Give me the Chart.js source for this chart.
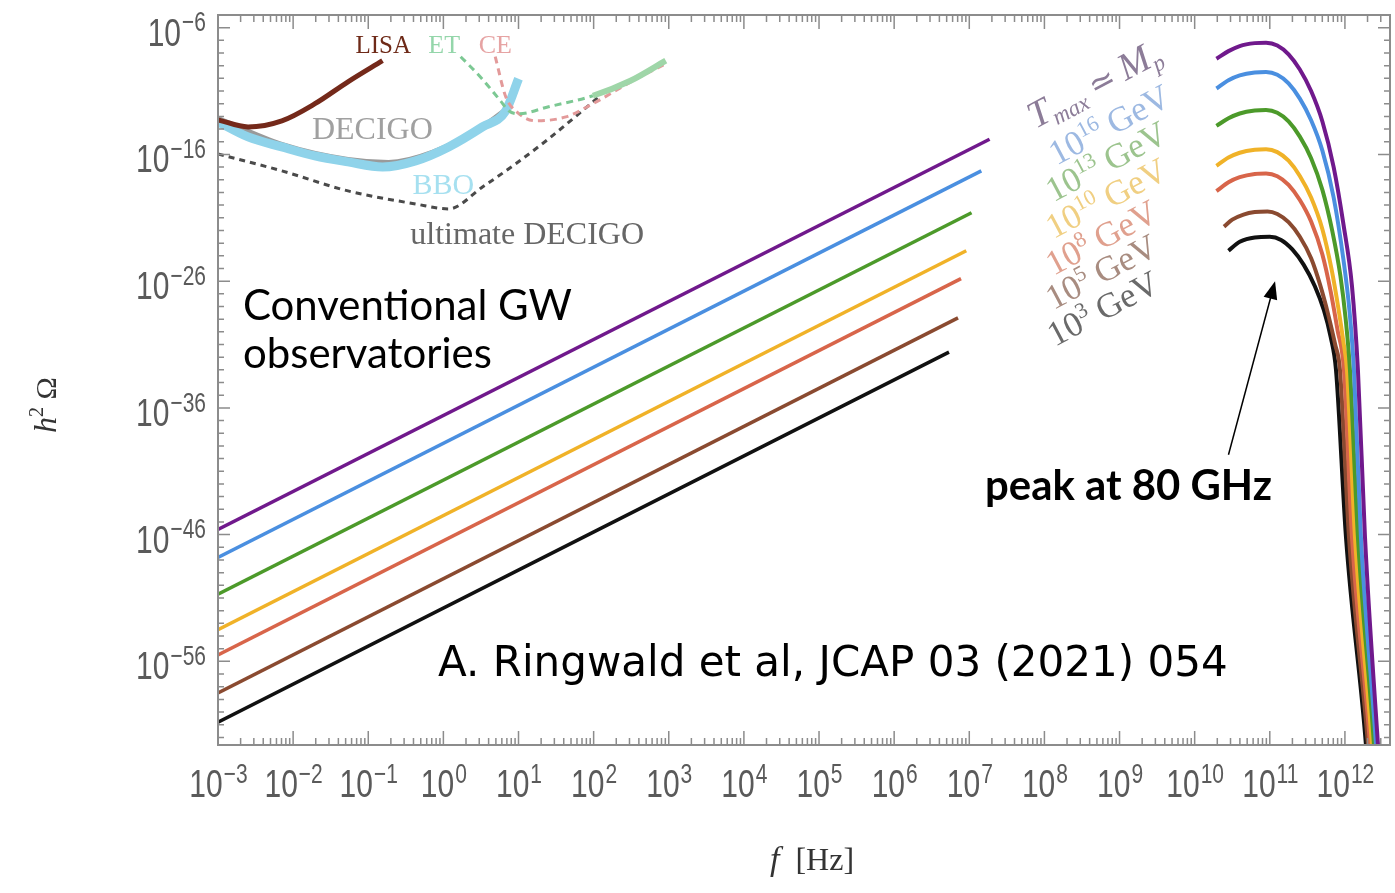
<!DOCTYPE html>
<html>
<head>
<meta charset="utf-8">
<title>GW spectrum</title>
<script src="https://cdn.jsdelivr.net/npm/chart.js@4.4.1/dist/chart.umd.min.js"></script>
<style>
  html, body { margin: 0; padding: 0; background: #fff; }
</style>
</head>
<body>
<canvas id="gwChart" width="1395" height="893"></canvas>
<script>
// all values are [log10 f/Hz, log10 h^2 Omega]

// f^3 part of the spectra
const lowPurple = [[-3, -45.6], [7.27, -14.8]]
const lowBlue = [[-3, -47.8], [7.16, -17.3]]
const lowGreen = [[-3, -50.7], [7.03, -20.6]]
const lowYellow = [[-3, -53.5], [6.96, -23.6]]
const lowSalmon = [[-3, -55.5], [6.89, -25.8]]
const lowBrown = [[-3, -58.5], [6.85, -28.9]]
const lowBlack = [[-3, -60.8], [6.73, -31.6]]

// peak part of the spectra
const highPurple = [[10.29, -8.45], [10.45, -7.85], [10.6, -7.45], [10.8, -7.22], [10.95, -7.18], [11.1, -7.4], [11.25, -8.1], [11.4, -9.3], [11.55, -11.0], [11.7, -13.4], [11.85, -17.0], [11.98, -21.5], [12.094, -26.4], [12.173, -33.0], [12.267, -46.2], [12.44, -62.6], [12.49, -67]]
const highBlue = [[10.29, -10.8], [10.45, -10.15], [10.6, -9.77], [10.8, -9.54], [10.95, -9.5], [11.1, -9.72], [11.25, -10.4], [11.4, -11.6], [11.55, -13.3], [11.7, -15.7], [11.85, -19.4], [11.98, -24.3], [12.06, -28.3], [12.12, -33.0], [12.213, -46.2], [12.414, -62.6], [12.46, -67]]
const highGreen = [[10.29, -13.75], [10.45, -13.15], [10.6, -12.77], [10.8, -12.54], [10.95, -12.5], [11.1, -12.72], [11.25, -13.4], [11.4, -14.6], [11.55, -16.3], [11.7, -18.8], [11.83, -22.0], [11.94, -25.6], [12.01, -29.0], [12.067, -33.0], [12.173, -46.2], [12.387, -62.6], [12.43, -67]]
const highYellow = [[10.29, -16.9], [10.45, -16.25], [10.6, -15.87], [10.8, -15.64], [10.95, -15.6], [11.1, -15.82], [11.25, -16.5], [11.4, -17.7], [11.55, -19.4], [11.7, -21.9], [11.82, -25.0], [11.92, -28.4], [11.98, -30.8], [12.027, -33.0], [12.134, -46.2], [12.36, -62.6], [12.41, -67]]
const highSalmon = [[10.29, -18.9], [10.45, -18.2], [10.6, -17.8], [10.8, -17.54], [10.95, -17.5], [11.1, -17.72], [11.25, -18.4], [11.4, -19.6], [11.55, -21.3], [11.7, -23.9], [11.81, -26.8], [11.9, -29.8], [11.987, -33.0], [12.094, -46.2], [12.334, -62.6], [12.38, -67]]
const highBrown = [[10.39, -21.7], [10.5, -21.15], [10.65, -20.75], [10.8, -20.55], [10.97, -20.5], [11.1, -20.7], [11.25, -21.35], [11.4, -22.5], [11.55, -24.2], [11.67, -26.3], [11.78, -28.7], [11.87, -31.0], [11.934, -33.0], [12.054, -46.2], [12.307, -62.6], [12.36, -67]]
const highBlack = [[10.45, -23.6], [10.6, -22.9], [10.8, -22.55], [11.0, -22.5], [11.15, -22.75], [11.3, -23.5], [11.45, -24.7], [11.6, -26.4], [11.72, -28.3], [11.81, -30.4], [11.881, -33.0], [12.014, -46.2], [12.28, -62.6], [12.33, -67]]

// detector sensitivity curves
const lisa = [[-3, -13.27], [-2.6, -13.83], [-2.15, -13.35], [-1.71, -12.0], [-1.27, -10.27], [-0.81, -8.6]]
const decigo = [[-3, -13.11], [-2.15, -15.17], [-1.27, -16.36], [-0.73, -16.59], [-0.15, -15.8], [0.52, -13.75], [0.87, -12.24]]
const bbo = [[-3, -13.43], [-2.6, -14.62], [-2.15, -15.41], [-1.71, -16.12], [-1.27, -16.59], [-0.81, -16.99], [-0.37, -16.51], [0.07, -15.41], [0.52, -13.83], [0.83, -12.56], [1.0, -10.03]]
const ultDecigo = [[-3, -15.96], [-2.15, -17.3], [-1.27, -18.88], [-0.37, -19.91], [0.07, -20.3], [0.52, -18.57], [0.96, -16.75], [1.4, -14.77], [1.85, -12.56], [2.07, -11.45]]
const et = [[0.23, -8.29], [0.49, -9.87], [0.75, -11.7], [0.87, -12.56], [1.0, -12.8], [1.4, -12.24], [1.99, -11.37], [2.49, -10.19], [2.96, -8.6]]
const ce = [[0.69, -8.29], [0.83, -11.45], [0.96, -12.56], [1.23, -13.35], [1.63, -13.04], [1.99, -12.0], [2.52, -10.19], [2.96, -8.85]]

// temperature labels (exponent of GeV, null = Planck mass)
const tempExps = [null, 16, 13, 10, 8, 5, 3]

// axis ticks
const xTickExps = [-3, -2, -1, 0, 1, 2, 3, 4, 5, 6, 7, 8, 9, 10, 11, 12]
const yTickExps = [-56, -46, -36, -26, -16, -6]
const xRange = [-3, 12.6]
const yRange = [-62.6, -5]

const toXY = (arr) => arr.map(([lx, ly]) => ({ x: Math.pow(10, lx), y: Math.pow(10, ly) }))

const specColors = ['#70198c', '#4a8fe0', '#4c9a2a', '#f0b228', '#d8654a', '#8a4a30', '#111111']
const labelColors = ['#8c7c98', '#9db9e2', '#9cc48e', '#f0cf82', '#e0a08e', '#a88c80', '#6a6a6a']
const lows = [lowPurple, lowBlue, lowGreen, lowYellow, lowSalmon, lowBrown, lowBlack]
const highs = [highPurple, highBlue, highGreen, highYellow, highSalmon, highBrown, highBlack]

let datasets = []
lows.forEach((d, i) => {
  datasets.push({ data: toXY(d), borderColor: specColors[i], borderWidth: 3.5, order: 0 })
  datasets.push({ data: toXY(highs[i]), borderColor: specColors[i], borderWidth: 4, order: 0 })
})
datasets.push({ data: toXY(lisa), borderColor: '#74291a', borderWidth: 5, order: 2 })
datasets.push({ data: toXY(et), borderColor: '#7cc893', borderWidth: 3, order: 2,
  segment: {
    borderDash: (c) => (c.p0.parsed.x >= Math.pow(10, 1.98) ? [] : [7, 5]),
    borderWidth: (c) => (c.p0.parsed.x >= Math.pow(10, 1.98) ? 6 : 3),
    borderColor: (c) => (c.p0.parsed.x >= Math.pow(10, 1.98) ? '#9fd6a8' : '#7cc893')
  } })
datasets.push({ data: toXY(ce), borderColor: '#e39a9a', borderWidth: 3, borderDash: [7, 5], order: 3 })
datasets.push({ data: toXY(ultDecigo), borderColor: '#4a4a4a', borderWidth: 3, borderDash: [6, 5], order: 4 })
datasets.push({ data: toXY(bbo), borderColor: '#8fd3ea', borderWidth: 9, order: 5 })
datasets.push({ data: toXY(decigo), borderColor: '#9a9a9a', borderWidth: 4, order: 6 })

function drawParts(ctx, x, y, parts, color, angle, align) {
  ctx.save()
  ctx.translate(x, y)
  ctx.rotate(angle || 0)
  ctx.fillStyle = color
  ctx.textBaseline = 'alphabetic'
  ctx.textAlign = 'left'
  let total = 0
  parts.forEach((p) => {
    ctx.font = (p.i ? 'italic ' : '') + p.s + 'px "Liberation Serif"'
    total += ctx.measureText(p.t).width
  })
  let cx = align === 'center' ? -total / 2 : 0
  parts.forEach((p) => {
    ctx.font = (p.i ? 'italic ' : '') + p.s + 'px "Liberation Serif"'
    ctx.fillText(p.t, cx, p.dy || 0)
    cx += ctx.measureText(p.t).width
  })
  ctx.restore()
}

function drawPow(ctx, x, y, exp, align) {
  const sup = exp < 0 ? '\u2212' + Math.abs(exp) : String(exp)
  ctx.save()
  ctx.font = '30px "Liberation Sans"'
  const w1 = ctx.measureText('10').width
  ctx.font = '21px "Liberation Sans"'
  const w2 = ctx.measureText(sup).width
  let x0 = align === 'right' ? x - w1 - w2 : x - (w1 + w2) / 2
  ctx.translate(x0, y)
  ctx.scale(1, 1.3)
  ctx.fillStyle = '#5a5a5a'
  ctx.textAlign = 'left'
  ctx.textBaseline = 'alphabetic'
  ctx.font = '30px "Liberation Sans"'
  ctx.fillText('10', 0, 0)
  ctx.font = '21px "Liberation Sans"'
  ctx.fillText(sup, w1 + 1, -11)
  ctx.restore()
}

function fitFont(ctx, text, weight, family, width) {
  ctx.font = weight + ' 40px ' + family
  return 40 * width / ctx.measureText(text).width
}

const overlay = {
  id: 'overlay',
  afterDatasetsDraw(chart) {
    const ctx = chart.ctx
    const a = chart.chartArea
    const xs = chart.scales.x
    const ys = chart.scales.y
    ctx.save()
    ctx.strokeStyle = '#8c8c8c'
    ctx.lineWidth = 1.5
    xs.ticks.forEach((t) => {
      const p = xs.getPixelForValue(t.value)
      const e = Math.log10(t.value)
      const len = Math.abs(e - Math.round(e)) < 1e-6 ? 14 : 7
      ctx.beginPath()
      ctx.moveTo(p, a.bottom); ctx.lineTo(p, a.bottom - len)
      ctx.moveTo(p, a.top); ctx.lineTo(p, a.top + len)
      ctx.stroke()
    })
    ys.ticks.forEach((t) => {
      const p = ys.getPixelForValue(t.value)
      const e = Math.round(Math.log10(t.value))
      const len = yTickExps.includes(e) ? 12 : 6
      ctx.beginPath()
      ctx.moveTo(a.left, p); ctx.lineTo(a.left + len, p)
      ctx.moveTo(a.right, p); ctx.lineTo(a.right - len, p)
      ctx.stroke()
    })
    ctx.lineWidth = 2
    ctx.strokeRect(a.left, a.top, a.right - a.left, a.bottom - a.top)
    ctx.restore()
  },
  afterDraw(chart) {
    const ctx = chart.ctx
    const a = chart.chartArea
    const xs = chart.scales.x
    const ys = chart.scales.y
    const P = (lx, ly) => [xs.getPixelForValue(Math.pow(10, lx)), ys.getPixelForValue(Math.pow(10, ly))]

    xTickExps.forEach((e) => drawPow(ctx, xs.getPixelForValue(Math.pow(10, e)), a.bottom + 52, e, 'center'))
    yTickExps.forEach((e) => drawPow(ctx, a.left - 13, ys.getPixelForValue(Math.pow(10, e)) + 18, e, 'right'))

    // axis titles
    drawParts(ctx, (a.left + a.right) / 2 + 8, 870, [{ t: 'f', i: 1, s: 34 }, { t: '  [Hz]', s: 32 }], '#333', 0, 'center')
    drawParts(ctx, 56, (a.top + a.bottom) / 2 + 25, [{ t: 'h', i: 1, s: 32 }, { t: '2', s: 20, dy: -13 }, { t: ' \u03a9', s: 30 }], '#333', -Math.PI / 2, 'center')

    // detector labels
    const serif = (t, lx, ly, s, col) => { const p = P(lx, ly); drawParts(ctx, p[0], p[1], [{ t: t, s: s }], col, 0) }
    serif('LISA', -1.17, -7.98, 25, '#6e2a18')
    serif('ET', -0.2, -7.98, 26, '#94d6aa')
    serif('CE', 0.47, -7.98, 26, '#e6a3a3')
    serif('DECIGO', -1.75, -14.77, 32, '#a0a0a0')
    serif('BBO', -0.41, -19.12, 30, '#a6e0f0')
    serif('ultimate DECIGO', -0.44, -23.07, 32, '#666666')

    // temperature labels, rotated
    const tPos = [[7.88, -14.0], [8.16, -16.9], [8.12, -19.8], [8.12, -22.7], [8.12, -25.6], [8.12, -28.3], [8.14, -31.2]]
    const ang = -28 * Math.PI / 180
    tempExps.forEach((e, i) => {
      const p = P(tPos[i][0], tPos[i][1])
      let parts
      if (e === null) {
        parts = [{ t: 'T', i: 1, s: 38 }, { t: 'max', i: 1, s: 23, dy: 7 }, { t: ' \u2243 ', s: 32 }, { t: 'M', i: 1, s: 38 }, { t: 'p', i: 1, s: 23, dy: 7 }]
      } else {
        parts = [{ t: '10', s: 35 }, { t: String(e), s: 22, dy: -13 }, { t: ' GeV', s: 35 }]
      }
      drawParts(ctx, p[0], p[1], parts, labelColors[i], ang)
    })

    // slide annotations
    ctx.save()
    ctx.fillStyle = '#000'
    ctx.textAlign = 'left'
    ctx.textBaseline = 'alphabetic'
    let s = fitFont(ctx, 'Conventional GW', '', 'Lato', 329)
    ctx.font = s + 'px Lato'
    ctx.fillText('Conventional GW', 243, 320)
    ctx.fillText('observatories', 243, 368)
    const ref = 'A. Ringwald et al, JCAP 03 (2021) 054'
    s = fitFont(ctx, ref, '', '"DejaVu Sans"', 790)
    ctx.font = s + 'px "DejaVu Sans"'
    ctx.fillText(ref, 438, 676)
    s = fitFont(ctx, 'peak at 80 GHz', 'bold', 'Lato', 287)
    ctx.font = 'bold ' + s + 'px Lato'
    ctx.fillText('peak at 80 GHz', 985, 500)

    // arrow to the peak
    const t0 = P(10.45, -39.7)
    const t1 = P(11.07, -26.0)
    const ang2 = Math.atan2(t1[1] - t0[1], t1[0] - t0[0])
    ctx.strokeStyle = '#000'
    ctx.lineWidth = 1.5
    ctx.beginPath()
    ctx.moveTo(t0[0], t0[1])
    ctx.lineTo(t1[0] - 12 * Math.cos(ang2), t1[1] - 12 * Math.sin(ang2))
    ctx.stroke()
    ctx.beginPath()
    ctx.moveTo(t1[0], t1[1])
    ctx.lineTo(t1[0] - 18 * Math.cos(ang2) + 7 * Math.sin(ang2), t1[1] - 18 * Math.sin(ang2) - 7 * Math.cos(ang2))
    ctx.lineTo(t1[0] - 18 * Math.cos(ang2) - 7 * Math.sin(ang2), t1[1] - 18 * Math.sin(ang2) + 7 * Math.cos(ang2))
    ctx.closePath()
    ctx.fill()
    ctx.restore()
  }
}

let canvas = document.getElementById('gwChart').getContext('2d')
let gwChart = new Chart(canvas, {
  type: 'line',
  data: { datasets: datasets },
  options: {
    responsive: false,
    animation: false,
    devicePixelRatio: 1,
    layout: { padding: { left: 0, top: 15, right: 5, bottom: 0 } },
    elements: {
      point: { radius: 0 },
      line: { cubicInterpolationMode: 'monotone', fill: false }
    },
    plugins: { legend: { display: false }, tooltip: { enabled: false } },
    scales: {
      x: {
        type: 'logarithmic',
        min: Math.pow(10, xRange[0]),
        max: Math.pow(10, xRange[1]),
        grid: { display: false },
        border: { display: false },
        ticks: { display: false },
        afterBuildTicks: (scale) => {
          let t = []
          xTickExps.forEach((e) => {
            for (let m = 1; m < 10; m++) {
              const v = m * Math.pow(10, e)
              if (v <= scale.max) t.push({ value: v })
            }
          })
          scale.ticks = t
        },
        afterFit: (scale) => { scale.height = 148 }
      },
      y: {
        type: 'logarithmic',
        min: Math.pow(10, yRange[0]),
        max: Math.pow(10, yRange[1]),
        grid: { display: false },
        border: { display: false },
        ticks: { display: false },
        afterBuildTicks: (scale) => {
          let t = []
          for (let e = Math.ceil(yRange[0]); e < yRange[1]; e++) t.push({ value: Math.pow(10, e) })
          scale.ticks = t
        },
        afterFit: (scale) => { scale.width = 218 }
      }
    }
  },
  plugins: [overlay]
})
</script>
</body>
</html>
